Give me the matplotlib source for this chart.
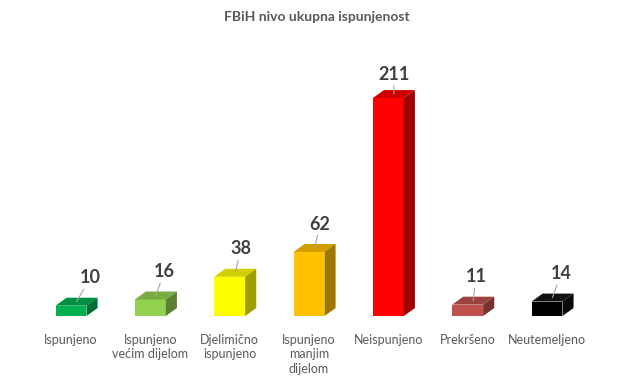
import numpy as np
import matplotlib
matplotlib.use('Agg')
import matplotlib.pyplot as plt
from matplotlib.patches import Polygon
from matplotlib.colors import to_rgb

# data
categories = ["Ispunjeno", "Ispunjeno\nvećim dijelom", "Djelimično\nispunjeno",
              "Ispunjeno\nmanjim\ndijelom", "Neispunjeno", "Prekršeno", "Neutemeljeno"]
values = [10, 16, 38, 62, 211, 11, 14]
colors = ["#00B050", "#92D050", "#FFFF00", "#FFC000", "#FF0000", "#C0504D", "#000000"]
title = "FBiH nivo ukupna ispunjenost"

# layout / style
label_off = [(10, 11), (6, 11), (4, 11), (4, 11), (0, 8), (2, 11), (6, 11)]  # points
plt.rcParams['font.family'] = ['Lato', 'DejaVu Sans']
bar_w = 0.39
dx, dy = 0.14, 7.7   # depth of the 3D box in data units


def shade(c, f):
    r, g, b = to_rgb(c)
    return (r * f, g * f, b * f)


fig = plt.figure(figsize=(6.32, 3.83), dpi=100)
ax = fig.add_axes([23.4 / 632, 67 / 383, 571.2 / 632, 268.6 / 383])
ax.set_xlim(-0.6, 6.6)
ax.set_ylim(0, 260)
ax.axis('off')

x = np.arange(len(values))
ax.bar(x, values, width=bar_w, color=colors, zorder=3)

for xi, v, c, off in zip(x, values, colors, label_off):
    l, r = xi - bar_w / 2, xi + bar_w / 2
    top = Polygon([(l, v), (r, v), (r + dx, v + dy), (l + dx, v + dy)],
                  closed=True, facecolor=shade(c, 0.82) if c != "#000000" else "#111111",
                  edgecolor='none', zorder=3)
    side = Polygon([(r, 0), (r + dx, dy), (r + dx, v + dy), (r, v)],
                   closed=True, facecolor=shade(c, 0.62) if c != "#000000" else "#0a0a0a",
                   edgecolor='none', zorder=3)
    ax.add_patch(top)
    ax.add_patch(side)
    ax.annotate(str(v), xy=(xi + dx / 2, v + dy / 2), xytext=off,
                textcoords='offset points', ha='center', va='bottom',
                fontsize=13, fontweight='bold', color='#404040', zorder=5,
                arrowprops=dict(arrowstyle='-', color='#A6A6A6', lw=0.8,
                                shrinkA=0, shrinkB=0))

for xi, cat in zip(x, categories):
    ax.text(xi, -17, cat, ha='center', va='top', fontsize=9, color='#595959',
            linespacing=1.25)

fig.text(317 / 632, 1 - 17 / 383, title, ha='center', va='center',
         fontsize=10, fontweight='bold', color='#595959')

fig.savefig('out.png', dpi=100)
plt.close('all')
